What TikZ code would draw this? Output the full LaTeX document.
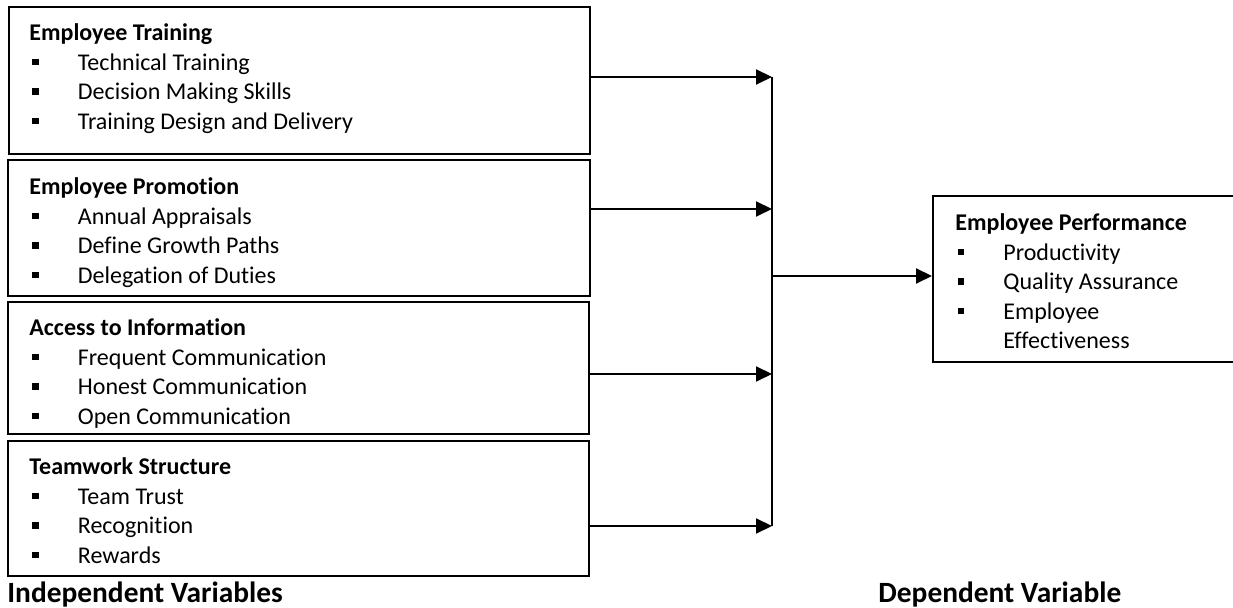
\documentclass[tikz,border=0pt]{standalone}
\usepackage{fontspec}
\setmainfont[Ligatures=NoCommon]{Carlito}
\usepackage{tikz}
\usetikzlibrary{positioning,calc,arrows.meta}

% small square bullet, set to the left of an item
\newcommand{\sqbullet}{\llap{\rule[2.7pt]{3.2pt}{3.2pt}\hspace{19.6pt}}}

\begin{document}
\begin{tikzpicture}[x=0.5pt,y=-0.5pt, line cap=butt, line join=miter]
				\useasboundingbox (0,0) rectangle (1233,608);
				
				% ===== styles =====
				\tikzset{varbox/.style={draw=black, line width=1pt, inner sep=0pt},
					headtxt/.style={anchor=base west, inner sep=0pt, font=\fontsize{12}{14}\selectfont\bfseries},
					itemtxt/.style={anchor=base west, inner sep=0pt, font=\fontsize{12}{14}\selectfont},
					captxt/.style={anchor=base west, inner sep=0pt, font=\fontsize{14.7}{17}\selectfont\bfseries},
					arr/.style={line width=1pt, -{Triangle[length=8pt,width=7.5pt]}}}
				
				% ===== independent variables (boxes) =====
				\node[varbox, minimum width=290.5pt, minimum height=73.5pt] (train) at (299.5,80.5) {};
				\node[varbox, minimum width=291pt, minimum height=68pt] (promo) at (299,228) {};
				\node[varbox, minimum width=290.5pt, minimum height=66pt] (info) at (298.5,368) {};
				\node[varbox, minimum width=290.5pt, minimum height=67.5pt] (team) at (298.5,508.5) {};
				
				% Employee Training
				\node[headtxt] (train-h) at (29,41) {Employee Training};
				\foreach \t [count=\i] in {Technical Training, Decision Making Skills, Training Design and Delivery}{
					\node[itemtxt] (train-\i) at (77.5,{41+29.5*\i}) {\sqbullet\t};
				}
				
				% Employee Promotion
				\node[headtxt] (promo-h) at (29,195) {Employee Promotion};
				\foreach \t [count=\i] in {Annual Appraisals, Define Growth Paths, Delegation of Duties}{
					\node[itemtxt] (promo-\i) at (77.5,{195+29.5*\i}) {\sqbullet\t};
				}
				
				% Access to Information
				\node[headtxt] (info-h) at (29,336) {Access to Information};
				\foreach \t [count=\i] in {Frequent Communication, Honest Communication, Open Communication}{
					\node[itemtxt] (info-\i) at (77.5,{336+29.5*\i}) {\sqbullet\t};
				}
				
				% Teamwork Structure
				\node[headtxt] (team-h) at (29,475) {Teamwork Structure};
				\foreach \t [count=\i] in {Team Trust, Recognition, Rewards}{
					\node[itemtxt] (team-\i) at (77.5,{475+29.5*\i}) {\sqbullet\t};
				}
				
				% ===== dependent variable (box, cut at right side) =====
				\node[varbox, minimum width=156pt, minimum height=83pt] (perf) at (1089,279) {};
				\node[headtxt] (perf-h) at (955,231) {Employee Performance};
				\foreach \t [count=\i] in {Productivity, Quality Assurance, Employee}{
					\node[itemtxt] (perf-\i) at (1003,{231+29.5*\i}) {\sqbullet\t};
				}
				\node[itemtxt] (perf-4) at (1003,{231+29.5*4}) {Effectiveness};
				
				% ===== connectors =====
				\coordinate (j1) at (772,77);
				\coordinate (j2) at (772,209);
				\coordinate (j3) at (772,374);
				\coordinate (j4) at (772,526);
				\coordinate (jm) at (772,276);
				
				\draw[arr] (train.east |- j1) -- (j1);
				\draw[arr] (promo.east |- j2) -- (j2);
				\draw[arr] (info.east |- j3) -- (j3);
				\draw[arr] (team.east |- j4) -- (j4);
				\draw[line width=0.8pt] (j1) -- (j4);
				\draw[arr] (jm) -- (perf.west |- jm);
				
				% ===== captions =====
				\node[captxt] (indep) at (7,603) {Independent Variables};
				\node[captxt] (dep) at (878,603) {Dependent Variable};
			\end{tikzpicture}
\end{document}
